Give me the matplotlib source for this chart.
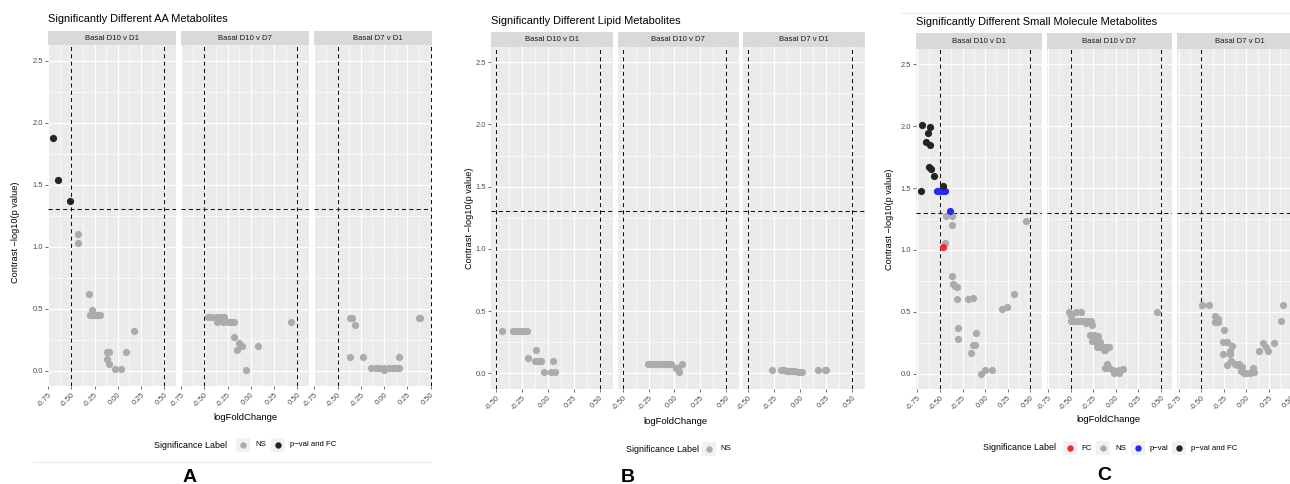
import matplotlib
matplotlib.use('Agg')
import matplotlib.pyplot as plt
from matplotlib.patches import Rectangle

plt.rcParams['font.family'] = ['Liberation Sans', 'DejaVu Sans']
plt.rcParams['axes.unicode_minus'] = True

W, H = 1290, 484

facet_names = ['Basal D10 v D1', 'Basal D10 v D7', 'Basal D7 v D1']
sig_colors = {'FC': '#F22A2E', 'NS': '#ABABAB', 'p−val': '#2A2AEE', 'p−val and FC': '#242424'}

# ---- A: AA metabolites ----
aa1_x = [-0.70, -0.646, -0.516, -0.43, -0.43, -0.31, -0.28, -0.30, -0.27, -0.245, -0.22, -0.195,
         0.17, -0.118, -0.10, 0.089, -0.118, -0.09, -0.027, 0.035]
aa1_y = [1.874, 1.54, 1.367, 1.10, 1.03, 0.62, 0.49, 0.448, 0.448, 0.448, 0.448, 0.448,
         0.316, 0.148, 0.148, 0.148, 0.095, 0.049, 0.014, 0.014]
aa1_lab = ['p−val and FC'] * 3 + ['NS'] * 17

aa2_x = [-0.465, -0.42, -0.36, -0.325, -0.29, -0.36, -0.30, -0.25, -0.21, -0.18,
         0.433, -0.177, -0.126, -0.092, -0.149, 0.082, -0.047]
aa2_y = [0.432, 0.432, 0.432, 0.432, 0.432, 0.394, 0.394, 0.394, 0.394, 0.394,
         0.394, 0.27, 0.224, 0.20, 0.165, 0.197, 0.008]
aa2_lab = ['NS'] * 17

aa3_x = [-0.37, -0.344, -0.316, -0.364, -0.232, 0.163, 0.375, 0.39, -0.14, -0.082,
         -0.05, 0.0, 0.0, 0.051, 0.092, 0.117, 0.143, 0.163]
aa3_y = [0.427, 0.427, 0.365, 0.111, 0.111, 0.111, 0.427, 0.427, 0.022, 0.022,
         0.022, 0.022, 0.008, 0.022, 0.022, 0.022, 0.022, 0.022]
aa3_lab = ['NS'] * 18

# ---- B: lipid metabolites ----
lip1_x = [-0.446, -0.34, -0.309, -0.277, -0.246, -0.223, -0.199, -0.118, -0.19, -0.124,
          -0.097, -0.064, 0.047, -0.04, 0.032, 0.068]
lip1_y = [0.341, 0.341, 0.341, 0.341, 0.341, 0.341, 0.341, 0.192, 0.123, 0.096,
          0.096, 0.096, 0.096, 0.01, 0.01, 0.01]
lip1_lab = ['NS'] * 16

lip2_x = [-0.255, -0.225, -0.198, -0.167, -0.135, -0.104, -0.077, -0.05, -0.03, 0.075,
          0.012, 0.03, 0.045]
lip2_y = [0.075, 0.075, 0.075, 0.075, 0.075, 0.075, 0.075, 0.075, 0.075, 0.075,
          0.04, 0.04, 0.008]
lip2_lab = ['NS'] * 13

lip3_x = [-0.272, -0.185, -0.158, -0.131, -0.104, -0.077, -0.05, -0.023, 0.0, 0.016,
          0.173, 0.235, 0.25]
lip3_y = [0.024, 0.024, 0.024, 0.02, 0.02, 0.02, 0.02, 0.014, 0.014, 0.014,
          0.024, 0.024, 0.024]
lip3_lab = ['NS'] * 13

# ---- C: small molecule metabolites ----
sm1_x = [-0.70, -0.605, -0.63, -0.655, -0.613, -0.623, -0.595, -0.566, -0.465, -0.707,
         -0.532, -0.51, -0.484, -0.463, -0.444, -0.384,
         -0.465,
         -0.43, -0.366, -0.366, 0.455, -0.444, -0.366, -0.36, -0.33, -0.307, -0.307,
         -0.195, -0.139, 0.318, 0.187, 0.246, -0.30, -0.30, -0.103, -0.139, -0.11,
         -0.153, -0.05, 0.0, 0.077]
sm1_y = [2.01, 1.995, 1.947, 1.874, 1.847, 1.667, 1.658, 1.60, 1.52, 1.48,
         1.477, 1.477, 1.477, 1.477, 1.477, 1.313,
         1.024,
         1.273, 1.273, 1.205, 1.232, 1.052, 0.787, 0.722, 0.712, 0.70, 0.601,
         0.601, 0.615, 0.642, 0.526, 0.536, 0.372, 0.283, 0.324, 0.227, 0.227,
         0.164, 0.0, 0.027, 0.027]
sm1_lab = ['p−val and FC'] * 10 + ['p−val'] * 6 + ['FC'] + ['NS'] * 24

sm2_x = [-0.514, -0.444, -0.384, 0.461, -0.497, -0.497, -0.46, -0.42, -0.38, -0.34,
         -0.31, -0.28, -0.33, -0.26, -0.286, -0.24, -0.20, -0.268, -0.216, -0.17,
         -0.212, -0.16, -0.12, -0.09, -0.072, -0.135, -0.12, -0.10, -0.121, -0.076,
         -0.03, 0.03, 0.076, -0.016, 0.034]
sm2_y = [0.494, 0.494, 0.494, 0.494, 0.466, 0.426, 0.426, 0.426, 0.426, 0.426,
         0.426, 0.426, 0.41, 0.39, 0.31, 0.31, 0.30, 0.26, 0.256, 0.256,
         0.215, 0.215, 0.215, 0.215, 0.215, 0.189, 0.19, 0.075, 0.045, 0.045,
         0.027, 0.027, 0.037, 0.005, 0.005]
sm2_lab = ['NS'] * 35

sm3_x = [-0.49, -0.414, -0.35, -0.32, -0.35, -0.31, -0.245, -0.26, -0.215, -0.165,
         -0.18, -0.256, -0.185, -0.22, -0.176, -0.13, -0.10, -0.087, -0.053, -0.06,
         -0.03, 0.0, 0.035, 0.077, 0.087, 0.14, 0.18, 0.22, 0.24, 0.30,
         0.378, 0.405]
sm3_y = [0.558, 0.558, 0.463, 0.445, 0.413, 0.413, 0.35, 0.252, 0.252, 0.222,
         0.18, 0.156, 0.156, 0.067, 0.098, 0.075, 0.07, 0.075, 0.054, 0.02,
         0.008, 0.005, 0.005, 0.045, 0.013, 0.183, 0.248, 0.215, 0.185, 0.248,
         0.423, 0.558]
sm3_lab = ['NS'] * 32

fig = plt.figure(figsize=(W / 100, H / 100), dpi=100)
fig.patch.set_facecolor('white')

# overlay in pixel coordinates for strips, titles, legends
ov = fig.add_axes([0, 0, 1, 1], zorder=10)
ov.set_xlim(0, W)
ov.set_ylim(H, 0)
ov.axis('off')
ov.patch.set_alpha(0)


def draw_facet(x0, x1, top, bot, strip_top, xlim, xticks, name, xs, ys, labs, show_y):
    ax = fig.add_axes([x0 / W, 1 - bot / H, (x1 - x0) / W, (bot - top) / H])
    ax.set_facecolor('#EBEBEB')
    for s in ax.spines.values():
        s.set_visible(False)
    ax.set_xlim(xlim)
    ax.set_ylim(-0.125, 2.625)
    ax.set_xticks(xticks)
    ax.set_xticklabels(['%.2f' % t for t in xticks])
    minors = [(a + b) / 2 for a, b in zip(xticks[:-1], xticks[1:])] + [xticks[-1] + 0.125]
    ax.set_xticks(minors, minor=True)
    ax.set_yticks([0, 0.5, 1.0, 1.5, 2.0, 2.5])
    ax.set_yticks([0.25, 0.75, 1.25, 1.75, 2.25], minor=True)
    ax.grid(which='major', color='white', lw=0.9)
    ax.grid(which='minor', color='white', lw=0.45)
    ax.set_axisbelow(True)
    ax.tick_params(which='minor', length=0)
    ax.tick_params(which='major', length=2.3, width=0.5, color='#333333',
                   labelsize=5.4, labelcolor='#4D4D4D', pad=1.5)
    for lab in ax.get_xticklabels():
        lab.set_rotation(45)
        lab.set_ha('right')
        lab.set_va('top')
        lab.set_rotation_mode('anchor')
    if show_y:
        ax.set_yticklabels(['0.0', '0.5', '1.0', '1.5', '2.0', '2.5'])
    else:
        ax.tick_params(axis='y', length=0, labelleft=False)
    dash = (0, (4, 3))
    ax.axvline(-0.5, color='#111111', ls=dash, lw=0.75, zorder=1)
    ax.axvline(0.5, color='#111111', ls=dash, lw=0.75, zorder=1)
    ax.axhline(1.30103, color='#111111', ls=dash, lw=0.75, zorder=1)
    for key in ['NS', 'FC', 'p−val', 'p−val and FC']:
        px = [x for x, l in zip(xs, labs) if l == key]
        py = [y for y, l in zip(ys, labs) if l == key]
        if px:
            ax.scatter(px, py, s=27, color=sig_colors[key], linewidths=0, zorder=3)
    # facet strip
    ov.add_patch(Rectangle((x0, strip_top), x1 - x0, top - strip_top, color='#D9D9D9', lw=0))
    ov.text((x0 + x1) / 2, (strip_top + top) / 2, name, ha='center', va='center',
            fontsize=5.6, color='#1A1A1A')
    return ax


def draw_legend(x_title, y, keys, gaps):
    ov.text(x_title, y, 'Significance Label', ha='left', va='center', fontsize=6.4, color='black')
    for (kx, lx), key in zip(gaps, keys):
        ov.add_patch(Rectangle((kx - 7, y - 7), 14, 14, color='#F2F2F2', lw=0))
        ov.plot([kx], [y], 'o', ms=4.6, color=sig_colors[key], mew=0)
        ov.text(lx, y, key, ha='left', va='center', fontsize=5.6, color='black')


ylab = 'Contrast −log10(p value)'

# Panel A
a_ticks = [-0.75, -0.5, -0.25, 0.0, 0.25, 0.5]
a_x = [(48, 176), (181, 309), (314.3, 442.3)]
for i, (xs, ys, labs) in enumerate([(aa1_x, aa1_y, aa1_lab), (aa2_x, aa2_y, aa2_lab),
                                     (aa3_x, aa3_y, aa3_lab)]):
    draw_facet(a_x[i][0], a_x[i][1], 45, 386, 31, (-0.75, 0.56), a_ticks,
               facet_names[i], xs, ys, labs, i == 0)
ov.text(48, 19.5, 'Significantly Different AA Metabolites', ha='left', va='center',
        fontsize=7.9, color='black')
ov.text(16, 232, ylab, rotation=90, ha='center', va='center', fontsize=6.6)
ov.text(245, 417, 'logFoldChange', ha='center', va='center', fontsize=6.8)
draw_legend(154, 445, ['NS', 'p−val and FC'], [(243, 255), (277.5, 289.5)])
ov.plot([33, 431], [461.5, 461.5], color='#E6E6E6', lw=0.6)
ov.text(190, 477, 'A', ha='center', va='center', fontsize=14, fontweight='bold')

# Panel B
b_ticks = [-0.5, -0.25, 0.0, 0.25, 0.5]
b_x = [(491, 612.7), (617.7, 739), (743.3, 865)]
for i, (xs, ys, labs) in enumerate([(lip1_x, lip1_y, lip1_lab), (lip2_x, lip2_y, lip2_lab),
                                     (lip3_x, lip3_y, lip3_lab)]):
    draw_facet(b_x[i][0], b_x[i][1], 46.7, 389, 31.7, (-0.55, 0.55), b_ticks,
               facet_names[i], xs, ys, labs, i == 0)
ov.text(491, 20.7, 'Significantly Different Lipid Metabolites', ha='left', va='center',
        fontsize=7.9, color='black')
ov.text(469.5, 218, ylab, rotation=90, ha='center', va='center', fontsize=6.6)
ov.text(675, 421, 'logFoldChange', ha='center', va='center', fontsize=6.8)
draw_legend(626, 449, ['NS'], [(709.3, 720.7)])
ov.text(628, 477, 'B', ha='center', va='center', fontsize=14, fontweight='bold')

# Panel C
c_x = [(916, 1041.7), (1046.7, 1172.3), (1177.3, 1303)]
for i, (xs, ys, labs) in enumerate([(sm1_x, sm1_y, sm1_lab), (sm2_x, sm2_y, sm2_lab),
                                     (sm3_x, sm3_y, sm3_lab)]):
    draw_facet(c_x[i][0], c_x[i][1], 49, 389, 33.3, (-0.765, 0.56), a_ticks,
               facet_names[i], xs, ys, labs, i == 0)
ov.text(916, 22.3, 'Significantly Different Small Molecule Metabolites', ha='left',
        va='center', fontsize=7.9, color='black')
ov.text(890, 219, ylab, rotation=90, ha='center', va='center', fontsize=6.6)
ov.text(1108, 420, 'logFoldChange', ha='center', va='center', fontsize=6.8)
draw_legend(983, 448, ['FC', 'NS', 'p−val', 'p−val and FC'],
            [(1069.7, 1081), (1103.3, 1115), (1137.7, 1149.3), (1179.3, 1191)])
ov.plot([901, 1290], [13.3, 13.3], color='#E6E6E6', lw=0.6)
ov.text(1104, 475, 'C', ha='center', va='center', fontsize=14, fontweight='bold')

# panel A image is cut on its right side
ov.add_patch(Rectangle((431.5, 0), 30, H, color='white', lw=0, zorder=5))

fig.savefig('out.png', dpi=100, facecolor='white')
